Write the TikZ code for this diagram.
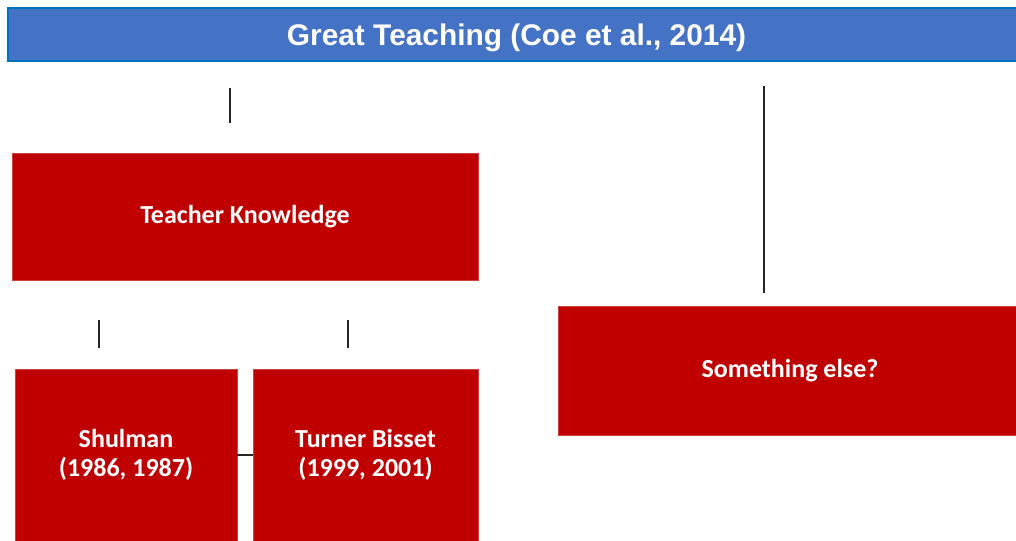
\documentclass[tikz,border=0pt]{standalone}
\usepackage{fontspec}
\setmainfont{Liberation Sans}
\newfontfamily\boxfont{Carlito}
\usepackage{xcolor}
\definecolor{hdblue}{HTML}{4472C4}
\definecolor{hdedge}{HTML}{0070C0}
\definecolor{boxred}{HTML}{C00000}

\begin{document}
\begin{tikzpicture}[x=0.75pt,y=-0.75pt,
  header/.style={fill=hdblue,draw=hdedge,line width=1.5pt,text=white,text depth=0pt,
    font=\bfseries\fontsize{22.4}{26}\selectfont},
  redbox/.style={fill=boxred,draw=boxred!75!white,line width=0.4pt,text=white,
    align=center,font=\boxfont\bfseries\fontsize{19.5}{21.5}\selectfont},
  link/.style={line width=1pt,black!85}]
  \useasboundingbox (0,0) rectangle (1016,540);

  \draw[line width=0pt]
    (516.5,34.5) node[header,minimum width=762.75pt,minimum height=39.75pt] (gt) {Great Teaching (Coe et al., 2014)}
    (245,216.5)  node[redbox,minimum width=349.5pt,minimum height=95.25pt] (tk) {Teacher Knowledge}
    (126,455)    node[redbox,minimum width=166.5pt,minimum height=129pt] (shul) {Shulman\\(1986, 1987)}
    (365.5,455)  node[redbox,minimum width=168.75pt,minimum height=129pt] (tb) {Turner Bisset\\(1999, 2001)}
    (790,370.5)  node[redbox,minimum width=348pt,minimum height=96.75pt] (se) {Something else?};

  % loose connector stubs
  \coordinate (a1) at (230,88);  \coordinate (a2) at (230,123);
  \coordinate (b1) at (764,86);  \coordinate (b2) at (764,293);
  \coordinate (c1) at (99,320);  \coordinate (c2) at (99,348);
  \coordinate (d1) at (348,320); \coordinate (d2) at (348,348);

  \draw[link] (a1)--(a2);
  \draw[link] (b1)--(b2);
  \draw[link] (c1)--(c2);
  \draw[link] (d1)--(d2);
  \draw[link] (shul.east)--(tb.west);
\end{tikzpicture}
\end{document}
